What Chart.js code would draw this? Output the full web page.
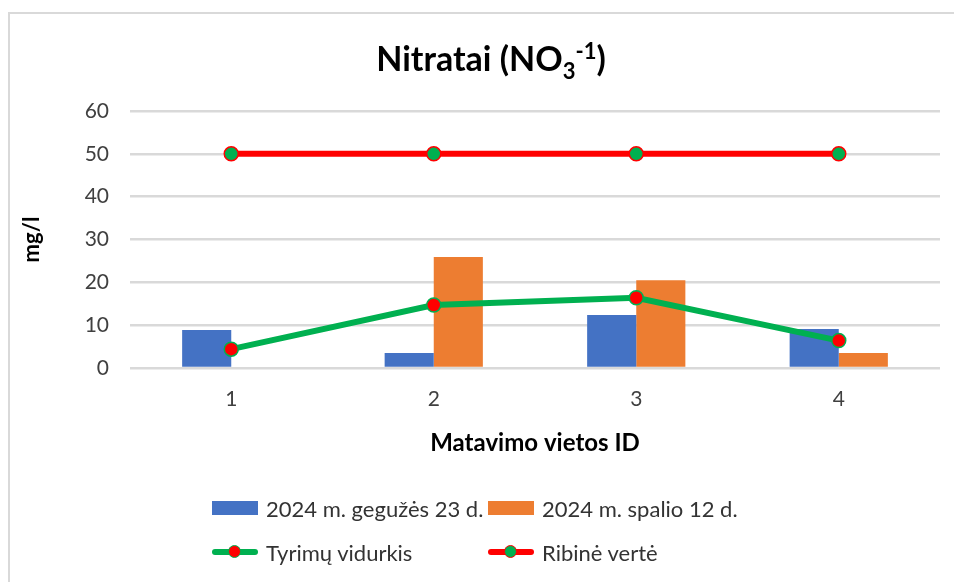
<!DOCTYPE html>
<html>
<head>
<meta charset="utf-8">
<script src="https://cdn.jsdelivr.net/npm/chart.js@4.4.1/dist/chart.umd.min.js"></script>
<style>
  body { margin: 0; background: #fff; font-family: Lato, "Open Sans", sans-serif; }
  #wrap { position: relative; width: 954px; height: 582px; overflow: hidden; }
  #frame { position: absolute; left: 8px; top: 12px; width: 980px; height: 600px; border: 2px solid #d9d9d9; box-sizing: border-box; }
  #title { position: absolute; left: 0; top: 29px; width: 982px; text-align: center; font-weight: bold; font-size: 34px; color: #000; line-height: 44px; }
  #title sub, #title sup { font-size: 22px; }
  #chart { position: absolute; left: 0; top: 0; }
  .leg { position: absolute; font-size: 22px; color: #333; display: flex; align-items: center; height: 26px; white-space: nowrap; }
  .sw { position: relative; width: 46px; height: 14px; margin-right: 8px; }
  .ln { position: absolute; left: 0; top: 4px; width: 46px; height: 6px; border-radius: 3px; }
  .dot { position: absolute; left: 16px; top: 0px; width: 11px; height: 11px; border-radius: 50%; border: 1.5px solid; }
</style>
</head>
<body>
<div id="wrap">
  <div id="frame"></div>
  <canvas id="chart" width="954" height="582"></canvas>
  <div id="title">Nitratai (NO<sub>3</sub><sup>-1</sup>)</div>
  <div id="legend"></div>
</div>
<script>
const categories = ['1', '2', '3', '4'];
const may23 = [8.9, 3.5, 12.4, 9.1];
const oct12 = [null, 25.9, 20.5, 3.5];
const average = [4.4, 14.7, 16.4, 6.4];
const limit = [50, 50, 50, 50];
const yTicks = [0, 10, 20, 30, 40, 50, 60];

const ctx = document.getElementById('chart').getContext('2d');
const chart = new Chart(ctx, {
    type: 'bar',
    data: {
        labels: categories,
        datasets: [
            {
                type: 'line',
                label: 'Tyrimų vidurkis',
                data: average,
                borderColor: '#00b050',
                borderWidth: 6,
                pointRadius: 7,
                pointBackgroundColor: '#ff0000',
                pointBorderColor: '#00b050',
                pointBorderWidth: 1.5,
                order: 0
            },
            {
                type: 'line',
                label: 'Ribinė vertė',
                data: limit,
                borderColor: '#ff0000',
                borderWidth: 6,
                pointRadius: 7,
                pointBackgroundColor: '#00b050',
                pointBorderColor: '#ff0000',
                pointBorderWidth: 1.5,
                order: 0
            },
            {
                label: '2024 m. gegužės 23 d.',
                data: may23,
                backgroundColor: '#4472c4',
                categoryPercentage: 0.485,
                barPercentage: 1,
                order: 1
            },
            {
                label: '2024 m. spalio 12 d.',
                data: oct12,
                backgroundColor: '#ed7d31',
                categoryPercentage: 0.485,
                barPercentage: 1,
                order: 1
            }
        ]
    },
    options: {
        responsive: false,
        animation: false,
        layout: { padding: { left: 10, right: 14, top: 111, bottom: 124 } },
        plugins: {
            legend: { display: false },
            tooltip: { enabled: false }
        },
        scales: {
            x: {
                grid: { display: false, drawTicks: false },
                border: { display: false },
                ticks: { color: '#404040', padding: 19, font: { family: 'Lato', size: 21 } },
                title: {
                    display: true,
                    text: 'Matavimo vietos ID',
                    color: '#000',
                    padding: { top: 8, bottom: 0 },
                    font: { family: 'Lato', size: 24, weight: 'bold' }
                },
                afterFit: axis => { axis.height = 90; }
            },
            y: {
                min: 0,
                max: 60,
                afterBuildTicks: axis => { axis.ticks = yTicks.map(v => ({ value: v })); },
                grid: { color: '#d9d9d9', lineWidth: 2.5, drawTicks: false },
                border: { display: false },
                ticks: { color: '#404040', padding: 21, font: { family: 'Lato', size: 21 } },
                title: {
                    display: true,
                    text: 'mg/l',
                    color: '#000',
                    padding: { top: 9, bottom: 0 },
                    font: { family: 'Lato', size: 22, weight: 'bold' }
                },
                afterFit: axis => { axis.width = 120; }
            }
        }
    }
});

// legend laid out in two rows like the original
const legendOrder = [2, 3, 0, 1];
const legendPos = [[212, 495], [488, 495], [212, 539], [488, 539]];
const legend = document.getElementById('legend');
legendOrder.forEach((di, i) => {
    const ds = chart.data.datasets[di];
    const item = document.createElement('div');
    item.className = 'leg';
    item.style.left = legendPos[i][0] + 'px';
    item.style.top = legendPos[i][1] + 'px';
    const sw = document.createElement('div');
    sw.className = 'sw';
    if (ds.type === 'line') {
        sw.innerHTML = '<div class="ln" style="background:' + ds.borderColor + '"></div>' +
            '<div class="dot" style="background:' + ds.pointBackgroundColor + ';border-color:' + ds.pointBorderColor + '"></div>';
    } else {
        sw.style.background = ds.backgroundColor;
    }
    item.appendChild(sw);
    item.appendChild(document.createTextNode(ds.label));
    legend.appendChild(item);
});
</script>
</body>
</html>
